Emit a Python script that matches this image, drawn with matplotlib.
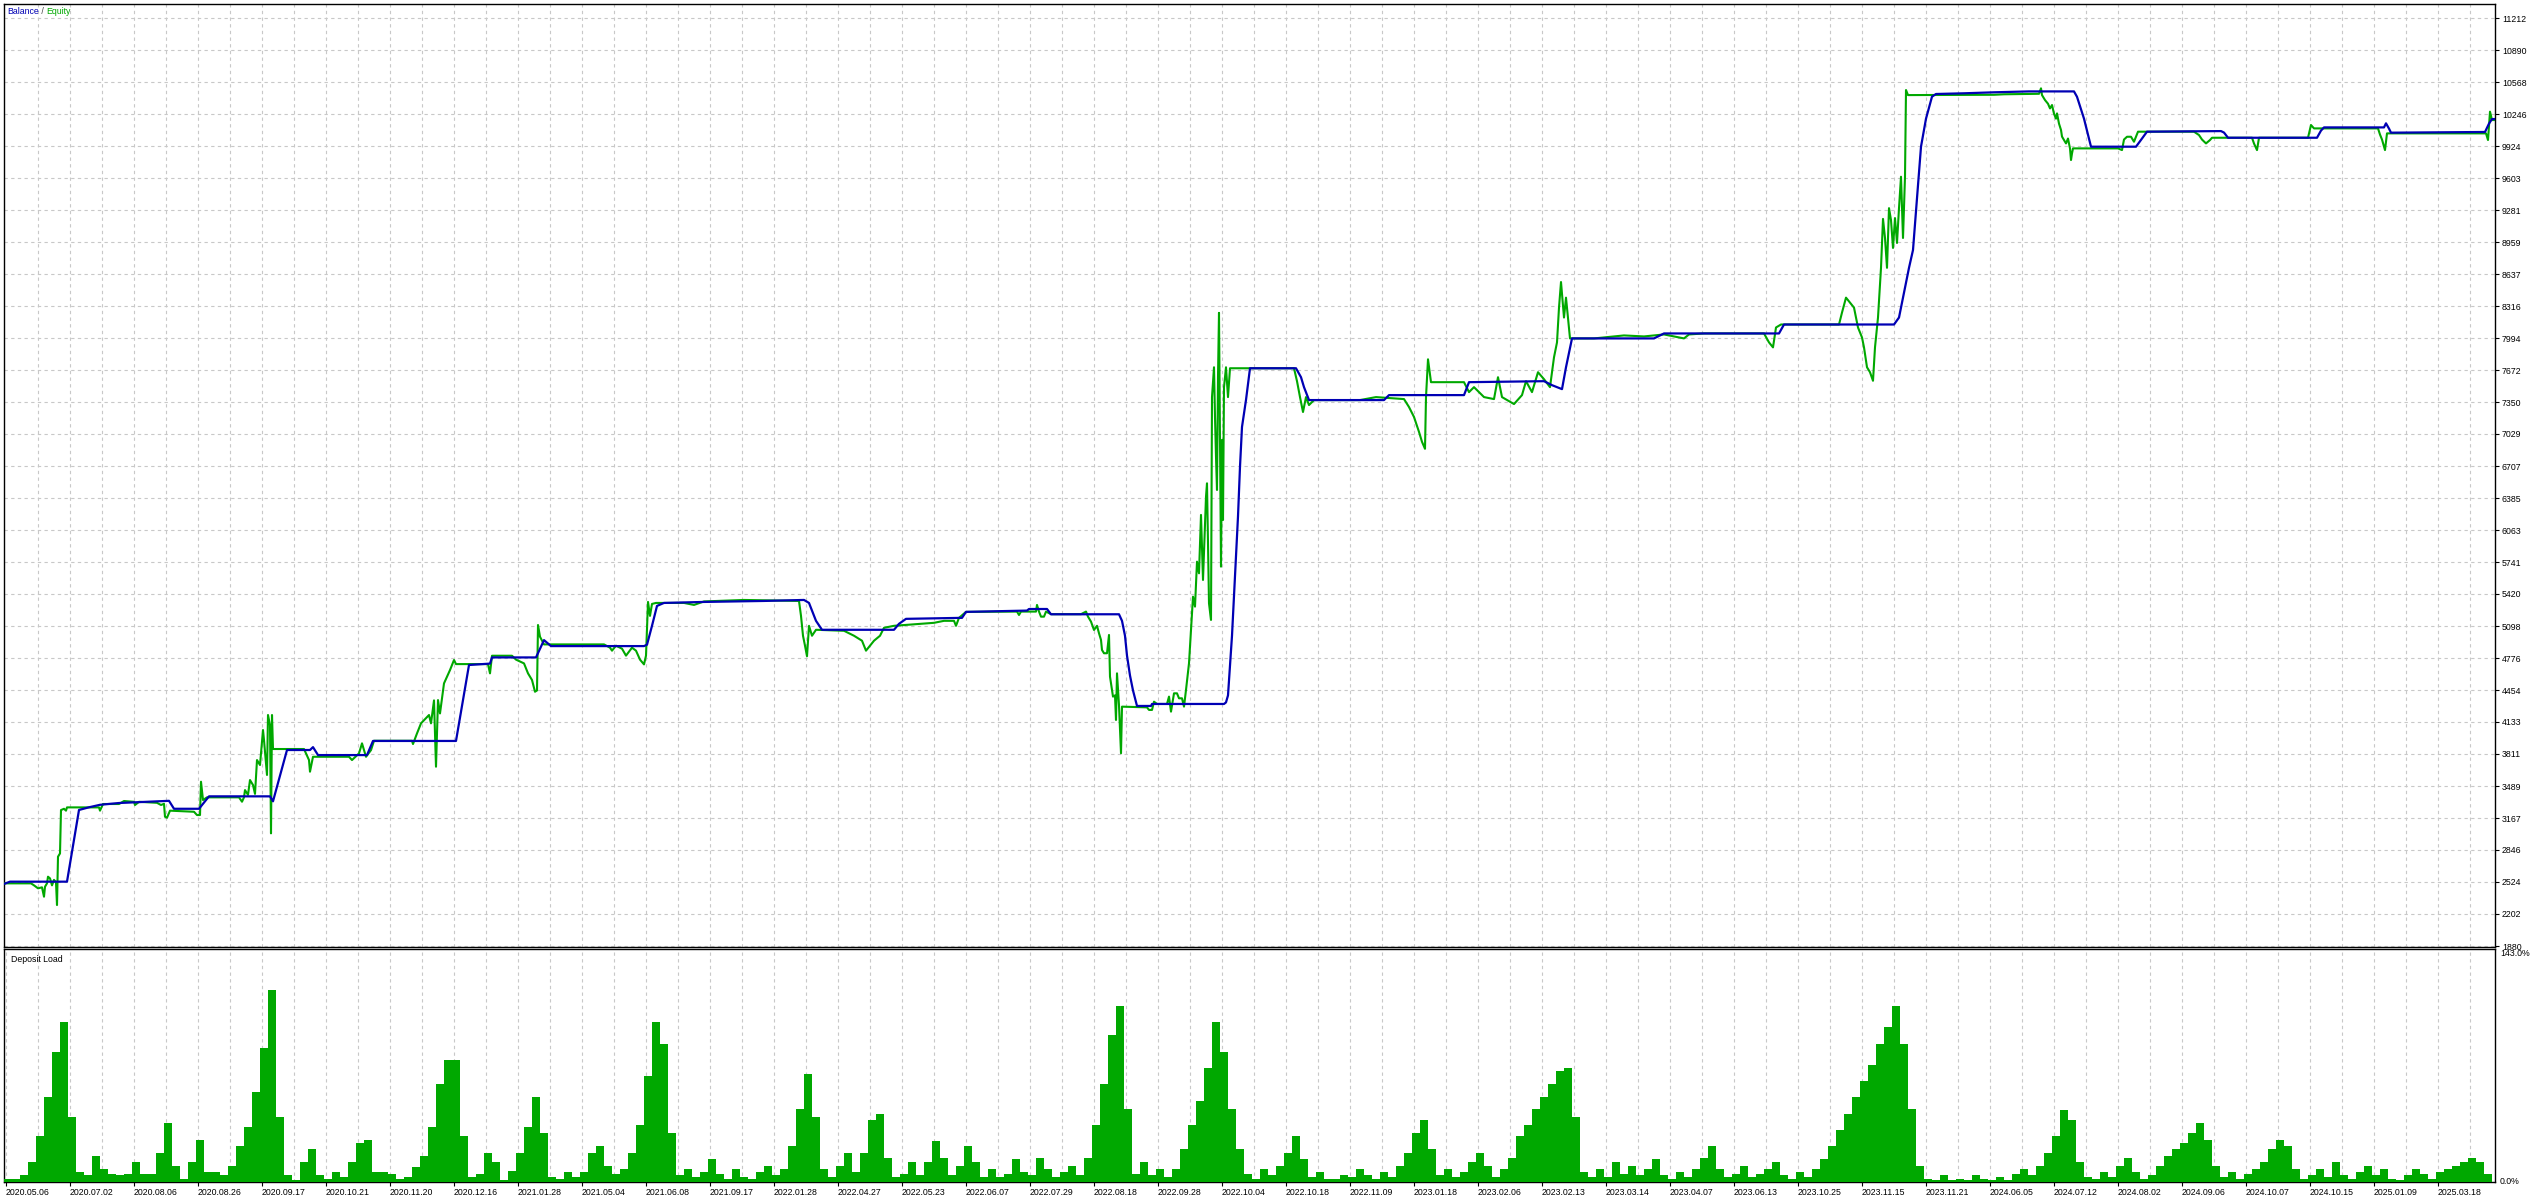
import numpy as np
import matplotlib
matplotlib.use("Agg")
import matplotlib.pyplot as plt
from matplotlib.offsetbox import AnchoredOffsetbox, HPacker, TextArea

plt.rcParams['font.family'] = ['Liberation Sans', 'DejaVu Sans']

#Balance curve (x = test step, y = account balance)
bal_x = [0, 6, 63, 75, 85, 96, 115, 165, 170, 195, 205, 266, 269, 283, 306, 309, 314, 363, 369, 452,
         465, 486, 488, 532, 540, 547, 640, 643, 648, 653, 660, 700, 760, 800, 805, 812, 818, 890, 895, 902,
         958, 962, 1023, 1025, 1043, 1047, 1115, 1118, 1121, 1123, 1126, 1129, 1133, 1147, 1148, 1220, 1222,
         1224, 1226, 1228, 1230, 1232, 1234, 1236, 1238, 1242, 1246, 1292, 1297, 1300, 1305, 1380, 1385, 1460,
         1465, 1540, 1548, 1558, 1562, 1568, 1650, 1660, 1775, 1780, 1890, 1895, 1900, 1905, 1909, 1913, 1917,
         1922, 1928, 1932, 1960, 1990, 2025, 2070, 2073, 2080, 2087, 2132, 2138, 2143, 2217, 2220, 2224, 2313,
         2317, 2320, 2380, 2382, 2385, 2387, 2481, 2485, 2488, 2490]
bal_y = [2504, 2527, 2527, 3248, 3275, 3300, 3318, 3340, 3260, 3260, 3385, 3385, 3335, 3851, 3851, 3880, 3800, 3800, 3942, 3942,
         4706, 4720, 4782, 4782, 4956, 4896, 4896, 4910, 5100, 5300, 5330, 5340, 5350, 5360, 5330, 5150, 5060, 5060, 5120, 5170,
         5180, 5240, 5253, 5269, 5269, 5216, 5216, 5150, 5000, 4800, 4600, 4450, 4294, 4294, 4314, 4314, 4330,
         4400, 4700, 5000, 5400, 5800, 6200, 6700, 7100, 7371, 7690, 7690, 7600, 7500, 7370, 7370, 7420, 7420,
         7550, 7560, 7520, 7480, 7700, 7990, 7990, 8040, 8040, 8130, 8130, 8200, 8450, 8700, 8879, 9400, 9918,
         10200, 10421, 10448, 10455, 10465, 10474, 10474, 10420, 10200, 9918, 9918, 10000, 10069, 10075, 10060, 10008, 10008,
         10080, 10112, 10112, 10153, 10100, 10059, 10066, 10150, 10196, 10196]

#Equity curve
eq_x = [0, 27, 30, 34, 38, 40, 41, 43, 44, 46, 48, 50, 52, 53, 54, 56, 57, 60, 62, 63,
        95, 96, 99, 115, 120, 130, 131, 135, 153, 157, 160, 161, 163, 166, 190, 193, 196, 197, 199, 203,
        235, 238, 240, 241, 244, 246, 249, 251, 253, 256, 259, 260, 262, 263, 264, 266, 267, 268, 269, 300,
        302, 305, 306, 309, 345, 348, 355, 358, 362, 367, 370, 408, 409, 413, 417, 425, 427, 430, 432, 434,
        436, 440, 446, 450, 452, 484, 486, 488, 508, 512, 520, 524, 528, 531, 533, 534, 536, 540,
        600, 606, 608, 612, 618, 622, 628, 632, 636, 640, 642, 644, 646, 648, 652, 680, 690, 700, 740, 795,
        797, 799, 801, 803, 805, 808, 812, 840, 850, 858, 862, 866, 870, 876, 880, 890, 930, 940, 950, 952,
        955, 962,
        1000, 1013, 1015, 1017, 1032, 1033, 1035, 1037, 1040, 1042, 1047, 1077, 1082, 1084, 1087, 1090, 1093, 1095, 1097, 1098,
        1100, 1103, 1105, 1106, 1109, 1111, 1112, 1113, 1115, 1117, 1118, 1143, 1145, 1148, 1150, 1153, 1163, 1165, 1167, 1170,
        1173, 1175, 1178, 1180, 1182, 1185, 1189, 1191, 1193, 1195, 1197, 1199, 1202, 1203, 1205, 1207, 1208, 1210, 1211, 1212,
        1213, 1214, 1215, 1216, 1217, 1218, 1219, 1220, 1222, 1224, 1226,
        1290, 1293, 1296, 1299, 1302, 1305, 1310, 1356, 1372, 1400, 1405, 1410, 1415, 1418, 1421, 1422, 1424, 1427, 1460, 1465,
        1470, 1480, 1490, 1494, 1498, 1510, 1518, 1522, 1528, 1534, 1540, 1546, 1550, 1553, 1555, 1557, 1560, 1562, 1566,
        1590, 1600, 1620, 1640, 1660, 1680, 1685, 1700, 1760, 1765, 1769, 1772, 1777, 1835, 1838, 1842, 1846, 1850, 1854, 1858,
        1860, 1863, 1866, 1869, 1871, 1874, 1877, 1879, 1881, 1883, 1885, 1887, 1889, 1891, 1893, 1895, 1897, 1899, 1901, 1902,
        1904, 1990, 2000, 2030, 2035, 2037, 2038, 2041, 2044, 2046, 2048, 2050, 2052, 2053, 2055, 2057, 2058, 2059, 2062, 2064,
        2066, 2067, 2068, 2069, 2114, 2118, 2120, 2123, 2127, 2130, 2134, 2190, 2195, 2198, 2202, 2206, 2208, 2248, 2250, 2253,
        2255, 2304, 2307, 2310, 2374, 2376, 2378, 2381, 2383, 2482, 2484, 2486, 2488, 2490]
eq_y = [2510, 2510, 2490, 2460, 2470, 2376, 2476, 2510, 2577, 2560, 2490, 2545, 2520, 2292, 2778, 2811, 3247, 3260, 3241, 3274,
        3274, 3241, 3308, 3308, 3338, 3330, 3298, 3330, 3320, 3298, 3310, 3180, 3170, 3241, 3230, 3197, 3197, 3532, 3348, 3375,
        3375, 3331, 3375, 3448, 3400, 3549, 3499, 3410, 3750, 3700, 4052, 3951, 3717, 3600, 4203, 4100, 3013, 4203, 3861, 3861,
        3817, 3750, 3633, 3783, 3783, 3750, 3817, 3918, 3783, 3850, 3944, 3944, 3911, 4018, 4119, 4203, 4119, 4350, 3683, 4353,
        4219, 4521, 4655, 4756, 4715, 4715, 4622, 4799, 4799, 4760, 4722, 4622, 4555, 4437, 4450, 5108, 4990, 4913,
        4913, 4880, 4850, 4900, 4870, 4800, 4880, 4850, 4760, 4712, 4800, 5340, 5200, 5320, 5330, 5330, 5310, 5345, 5360, 5350,
        5200, 5000, 4900, 4794, 5100, 5000, 5060, 5050, 5000, 4950, 4850, 4900, 4950, 5000, 5080, 5100, 5130, 5150, 5150, 5100,
        5180, 5240,
        5243, 5243, 5209, 5243, 5243, 5310, 5243, 5192, 5192, 5243, 5217, 5217, 5243, 5192, 5142, 5058, 5100, 5025, 4958, 4857,
        4824, 4824, 5008, 4589, 4388, 4400, 4153, 4622, 4300, 3818, 4287, 4280, 4254, 4254, 4337, 4314, 4314, 4388, 4237, 4421,
        4421, 4371, 4371, 4287, 4455, 4723, 5393, 5293, 5745, 5628, 6215, 5561, 6399, 6533, 5326, 5159, 7400, 7700, 7200, 6801,
        6466, 7600, 8247, 7000, 5695, 6969, 6164, 7500, 7700, 7400, 7690,
        7690, 7560, 7400, 7250, 7400, 7320, 7370, 7370, 7400, 7380, 7300, 7200, 7050, 6950, 6880, 7400, 7780, 7550, 7550, 7450,
        7500, 7400, 7380, 7600, 7400, 7330, 7420, 7560, 7450, 7650, 7580, 7500, 7800, 7950, 8300, 8557, 8200, 8400, 7990,
        7990, 8000, 8020, 8010, 8030, 7990, 8030, 8040, 8040, 7950, 7900, 8100, 8130, 8130, 8250, 8400, 8350, 8300, 8100, 8000,
        7900, 7700, 7650, 7564, 7900, 8200, 8700, 9192, 9000, 8700, 9300, 9180, 8900, 9200, 8950, 9300, 9616, 9000, 9616, 10488,
        10437, 10440, 10445, 10450, 10450, 10505, 10437, 10387, 10350, 10303, 10337, 10250, 10200, 10253, 10150, 10086, 10020, 10002, 9951, 10000,
        9900, 9784, 9850, 9901, 9901, 9884, 9990, 10018, 10018, 9968, 10069, 10069, 10035, 9990, 9951, 9985, 10008, 10008, 9950, 9884,
        10008, 10008, 10136, 10102, 10102, 10040, 9990, 9884, 10052, 10052, 9985, 10270, 10186, 10186]

#Right axis labels of the balance panel
y_ticks = [1880, 2202, 2524, 2846, 3167, 3489, 3811, 4133, 4454, 4776, 5098, 5420, 5741, 6063, 6385,
           6707, 7029, 7350, 7672, 7994, 8316, 8637, 8959, 9281, 9603, 9924, 10246, 10568, 10890, 11212]

#Dates shown under the deposit load panel
date_labels = ['2020.05.06', '2020.07.02', '2020.08.06', '2020.08.26', '2020.09.17', '2020.10.21', '2020.11.20',
               '2020.12.16', '2021.01.28', '2021.05.04', '2021.06.08', '2021.09.17', '2022.01.28', '2022.04.27',
               '2022.05.23', '2022.06.07', '2022.07.29', '2022.08.18', '2022.09.28', '2022.10.04', '2022.10.18',
               '2022.11.09', '2023.01.18', '2023.02.06', '2023.02.13', '2023.03.14', '2023.04.07', '2023.06.13',
               '2023.10.25', '2023.11.15', '2023.11.21', '2024.06.05', '2024.07.12', '2024.08.02', '2024.09.06',
               '2024.10.07', '2024.10.15', '2025.01.09', '2025.03.18']

#Deposit load in percent, one value per block of 8 steps
load = [2, 2, 4, 12, 28, 52, 80, 98, 40, 6, 4, 16, 8, 5, 4, 5, 12, 5, 5, 18,
        36, 10, 2, 12, 26, 6, 6, 4, 10, 22, 34, 55, 82, 118, 40, 4, 1, 12, 20, 4,
        2, 6, 3, 12, 24, 26, 6, 6, 5, 2, 3, 9, 16, 34, 60, 75, 75, 28, 3, 5,
        18, 12, 1, 7, 18, 34, 52, 30, 3, 2, 6, 3, 6, 18, 22, 10, 5, 8, 18, 35,
        65, 98, 85, 30, 4, 8, 3, 6, 14, 5, 2, 8, 3, 2, 6, 10, 4, 8, 22, 45,
        66, 40, 8, 3, 10, 18, 6, 18, 38, 42, 15, 3, 5, 12, 4, 12, 25, 15, 4, 10,
        22, 12, 3, 8, 3, 5, 14, 6, 4, 15, 8, 3, 6, 10, 4, 15, 35, 60, 90, 108,
        45, 5, 12, 4, 8, 3, 8, 20, 35, 50, 70, 98, 80, 45, 20, 5, 2, 8, 4, 10,
        18, 28, 14, 3, 6, 2, 2, 4, 3, 8, 4, 2, 6, 3, 10, 18, 30, 38, 20, 4,
        8, 3, 6, 12, 18, 10, 3, 8, 15, 28, 35, 45, 52, 60, 68, 70, 40, 6, 3, 8,
        3, 12, 5, 10, 4, 8, 14, 4, 2, 6, 3, 8, 15, 22, 8, 3, 5, 10, 3, 5,
        8, 12, 4, 2, 6, 3, 8, 14, 22, 32, 42, 52, 62, 72, 85, 95, 108, 85, 45, 10,
        2, 1, 4, 1, 2, 1, 4, 2, 1, 3, 1, 5, 8, 4, 10, 18, 28, 44, 38, 12,
        3, 2, 6, 3, 10, 15, 6, 2, 4, 10, 16, 20, 24, 30, 36, 26, 10, 3, 6, 2,
        5, 8, 12, 20, 26, 22, 8, 2, 4, 8, 3, 12, 4, 2, 6, 10, 4, 8, 2, 1,
        4, 8, 5, 2, 6, 8, 10, 12, 15, 12, 5]
load_step = 8

#colours taken from the terminal chart
blue = '#0000B4'
green = '#00A800'
grid_col = '#C8C8C8'

W, H = 2540, 1198
fig = plt.figure(figsize=(W / 100, H / 100), dpi=100)
ax = fig.add_axes([4 / W, (H - 947) / H, 2491 / W, 943 / H])
ax2 = fig.add_axes([4 / W, (H - 1182) / H, 2491 / W, 233 / H])

x_max = 2491
grid_x = [1.5 + 32 * k for k in range(1, 78)]
label_x = [1.5 + 64 * k for k in range(len(date_labels))]

#Balance / Equity panel
ax.plot(eq_x, eq_y, color=green, lw=1.5, zorder=3)
ax.plot(bal_x, bal_y, color=blue, lw=1.6, zorder=4)
ax.set_xlim(0, x_max)
ax.set_ylim(1870, 11353)
ax.yaxis.tick_right()
ax.set_yticks(y_ticks)
ax.set_yticklabels([str(v) for v in y_ticks], fontsize=6.3)
ax.tick_params(axis='y', length=3, width=0.8, pad=2, direction='out')
ax.set_xticks(grid_x)
ax.tick_params(axis='x', length=0, labelbottom=False)
ax.grid(True, color=grid_col, lw=0.8, ls=(0, (3, 3)))
ax.set_axisbelow(True)
for s in ax.spines.values():
    s.set_linewidth(1.0)

legend_box = HPacker(children=[TextArea('Balance', textprops=dict(color=blue, fontsize=6.3)),
                               TextArea(' / ', textprops=dict(color='#444444', fontsize=6.3)),
                               TextArea('Equity', textprops=dict(color=green, fontsize=6.3))],
                     align='baseline', pad=0, sep=0)
anchored = AnchoredOffsetbox(loc='upper left', child=legend_box, pad=0, borderpad=0.25, frameon=False)
ax.add_artist(anchored)

#Deposit load panel
load_x = np.arange(len(load)) * load_step + load_step / 2
ax2.bar(load_x, load, width=load_step, color=green, lw=0, zorder=3)
ax2.set_xlim(0, x_max)
ax2.set_ylim(0, 143)
ax2.set_yticks([])
ax2.set_xticks(grid_x, minor=True)
ax2.set_xticks(label_x)
ax2.set_xticklabels(date_labels, fontsize=6.3, ha='left')
ax2.tick_params(axis='x', which='major', length=3, width=0.8, pad=1)
ax2.tick_params(axis='x', which='minor', length=0)
ax2.grid(True, axis='x', which='both', color=grid_col, lw=0.8, ls=(0, (3, 3)))
ax2.set_axisbelow(True)
for s in ax2.spines.values():
    s.set_linewidth(1.0)
ax2.text(0.003, 0.975, 'Deposit Load', transform=ax2.transAxes, fontsize=6.3, va='top', ha='left')
ax2.text(1.002, 1.0, '143.0%', transform=ax2.transAxes, fontsize=6.3, va='top', ha='left')
ax2.text(1.002, 0.0, '0.0%', transform=ax2.transAxes, fontsize=6.3, va='center', ha='left')

fig.savefig('out.png', dpi=100)
